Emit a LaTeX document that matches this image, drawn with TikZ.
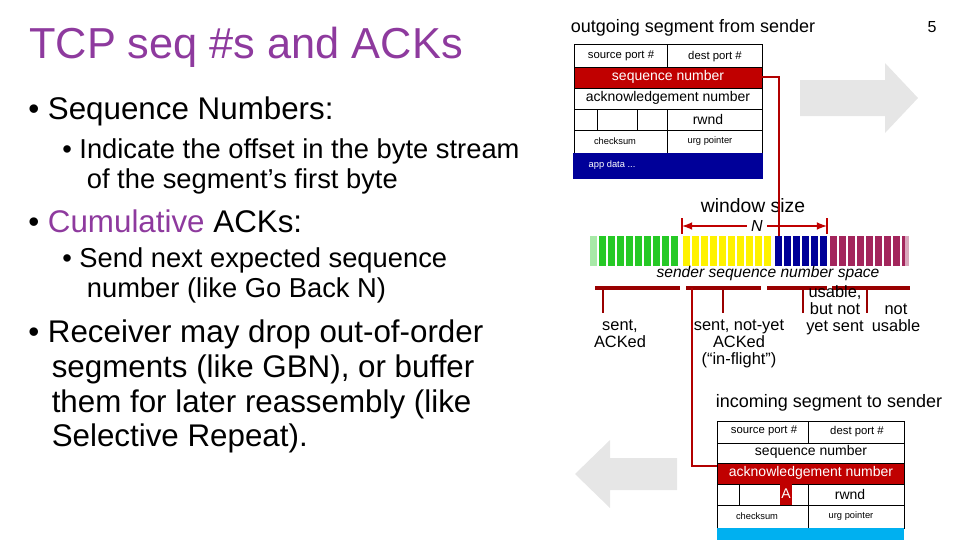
\documentclass[tikz,border=0pt]{standalone}
\usepackage{fontspec}
\setmainfont{Liberation Sans}
\begin{document}
\begin{tikzpicture}[x=0.75pt,y=-0.75pt,
 cell/.style={draw=black,line width=0.6pt},
 small/.style={font=\fontsize{8.5}{9}\selectfont},
 mid/.style={font=\fontsize{10.5}{11}\selectfont},
 lbl/.style={font=\fontsize{12.3}{12.8}\selectfont,align=center,anchor=north},
 brk/.style={draw=red!60!black,line width=3pt},
 tick/.style={draw=red!60!black,line width=1pt},
 redln/.style={draw=red!70!black,line width=0.8pt}]
\definecolor{ttl}{HTML}{8E3A9E}
\definecolor{sred}{HTML}{C00000}
\definecolor{sblue}{HTML}{000099}
\definecolor{lblue}{HTML}{00B0F0}
\definecolor{agray}{HTML}{E6E6E6}
\useasboundingbox (0,0) rectangle (960,540);
% left text
\node[anchor=west,text=ttl,font=\fontsize{32.5}{32.5}\selectfont,inner sep=0pt] (title) at (29,47) {TCP seq \#s and ACKs};
\node[anchor=west,font=\fontsize{23.5}{23.5}\selectfont,inner sep=0pt] (b1) at (28,111) {• Sequence Numbers:};
\node[anchor=north west,align=left,font=\fontsize{20.5}{22.5}\selectfont,inner sep=0pt] (b1a) at (62,138) {• Indicate the offset in the byte stream\\\hspace{0.9em}of the segment’s first byte};
\node[anchor=west,font=\fontsize{23.5}{23.5}\selectfont,inner sep=0pt] (b2) at (28,221) {• \textcolor{ttl}{Cumulative} ACKs:};
\node[anchor=north west,align=left,font=\fontsize{20.5}{22.5}\selectfont,inner sep=0pt] (b2a) at (62,247) {• Send next expected sequence\\\hspace{0.9em}number (like Go Back N)};
\node[anchor=north west,align=left,font=\fontsize{23.5}{26}\selectfont,inner sep=0pt] (b3) at (28,320) {• Receiver may drop out-of-order\\\hspace{0.75em}segments (like GBN), or buffer\\\hspace{0.75em}them for later reassembly (like\\\hspace{0.75em}Selective Repeat).};
\node[font=\fontsize{12}{12}\selectfont] (pg) at (932,27) {5};
% gray arrows
\fill[agray] (800,80) -- (885,80) -- (885,63) -- (918,98) -- (885,133) -- (885,116) -- (800,116) -- cycle;
\fill[agray] (677,458) -- (610,458) -- (610,440) -- (575,474) -- (610,508) -- (610,490) -- (677,490) -- cycle;
% outgoing segment
\node[font=\fontsize{13.5}{13.5}\selectfont] (out) at (693,28) {outgoing segment from sender};
\draw[cell] (574,44) rectangle (762,153);
\draw[cell] (667,44) -- (667,67);
\fill[sred] (574,67) rectangle (762,88);
\draw[cell] (574,67) rectangle (762,88);
\draw[cell] (574,109) -- (762,109) (597,109) -- (597,130) (637,109) -- (637,130) (667,109) -- (667,153) (574,130) -- (762,130);
\fill[sblue] (573,153) rectangle (763,179);
\node[small] (sp1) at (621,56) {source port \#};
\node[small] (dp1) at (715,57) {dest port \#};
\node[mid,text=white] (sq1) at (668,77) {sequence number};
\node[mid] (ak1) at (668,98) {acknowledgement number};
\node[mid] (rw1) at (708,119) {rwnd};
\node[font=\fontsize{7}{7}\selectfont] (cs1) at (615,141) {checksum};
\node[font=\fontsize{7}{7}\selectfont] (ug1) at (710,141) {urg pointer};
\node[font=\fontsize{7}{7}\selectfont,text=white,anchor=west] (ad1) at (584,165) {app data ...};
% sequence bar
\foreach \x in {590,599,...,676} {\fill[green!75!black!85] (\x,236) rectangle ++(7,30);}
\foreach \x in {683,692,...,765} {\fill[yellow] (\x,236) rectangle ++(7,30);}
\foreach \x in {775,784,...,820} {\fill[sblue] (\x,236) rectangle ++(7,30);}
\foreach \x in {830,839,...,905} {\fill[red!40!violet!70!gray] (\x,236) rectangle ++(7,30);}
\fill[white,opacity=0.6] (590,236) rectangle (597,266) (905,236) rectangle (912,266);
\node[font=\fontsize{14.5}{14.5}\selectfont] (ws) at (753,206) {window size};
\node[font=\itshape\fontsize{12}{12}\selectfont] (N) at (757,226) {N};
\coordinate (nl) at (682,226); \coordinate (nr) at (827,226);
\draw[sred,line width=1.6pt,-latex] (N.west) -- (nl);
\draw[sred,line width=1.6pt,-latex] (N.east) -- (nr);
\draw[sred,line width=1pt] (682,218) -- (682,234) (827,218) -- (827,234);
\coordinate (s1) at (762,77);
\draw[redln] (s1) -- (779,77) -- (779,236);
\node[font=\itshape\fontsize{11.7}{11.7}\selectfont] (ssp) at (768,273) {sender sequence number space};
% brackets
\draw[brk] (595,288) -- (680,288) (686,288) -- (761,288) (767,288) -- (827,288) (832,288) -- (910,288);
\draw[tick] (603,288) -- (603,313) (723,288) -- (723,313) (803,288) -- (803,313) (867,288) -- (867,313);
\node[lbl] (l1) at (620,315) {sent,\\ACKed};
\node[lbl] (l2) at (739,315) {sent, not-yet\\ACKed\\(“in-flight”)};
\node[lbl,text height=9pt] (l3) at (835,315) {usable,\\but not\\yet sent};
\node[lbl,text height=9pt] (l4) at (896,315) {not\\usable};
% incoming segment
\node[font=\fontsize{13.5}{13.5}\selectfont] (inc) at (829,403) {incoming segment to sender};
\draw[cell] (717,421) rectangle (904,528);
\draw[cell] (808,421) -- (808,443) (717,443) -- (904,443);
\fill[sred] (717,463) rectangle (904,484);
\draw[cell] (717,463) rectangle (904,484);
\draw[cell] (739,484) -- (739,505) (808,484) -- (808,528) (717,505) -- (904,505);
\fill[sred] (780,484) rectangle (792,505);
\fill[lblue] (717,528) rectangle (904,540);
\node[small] (sp2) at (764,431) {source port \#};
\node[small] (dp2) at (857,432) {dest port \#};
\node[mid] (sq2) at (811,452) {sequence number};
\node[mid,text=white] (ak2) at (811,473) {acknowledgement number};
\node[mid,text=white] (A) at (786,494) {A};
\node[mid] (rw2) at (850,494) {rwnd};
\node[font=\fontsize{7}{7}\selectfont] (cs2) at (757,516) {checksum};
\node[font=\fontsize{7}{7}\selectfont] (ug2) at (851,516) {urg pointer};
\draw[redln] (692,288) -- (692,466) -- (717,466);
\end{tikzpicture}
\end{document}
